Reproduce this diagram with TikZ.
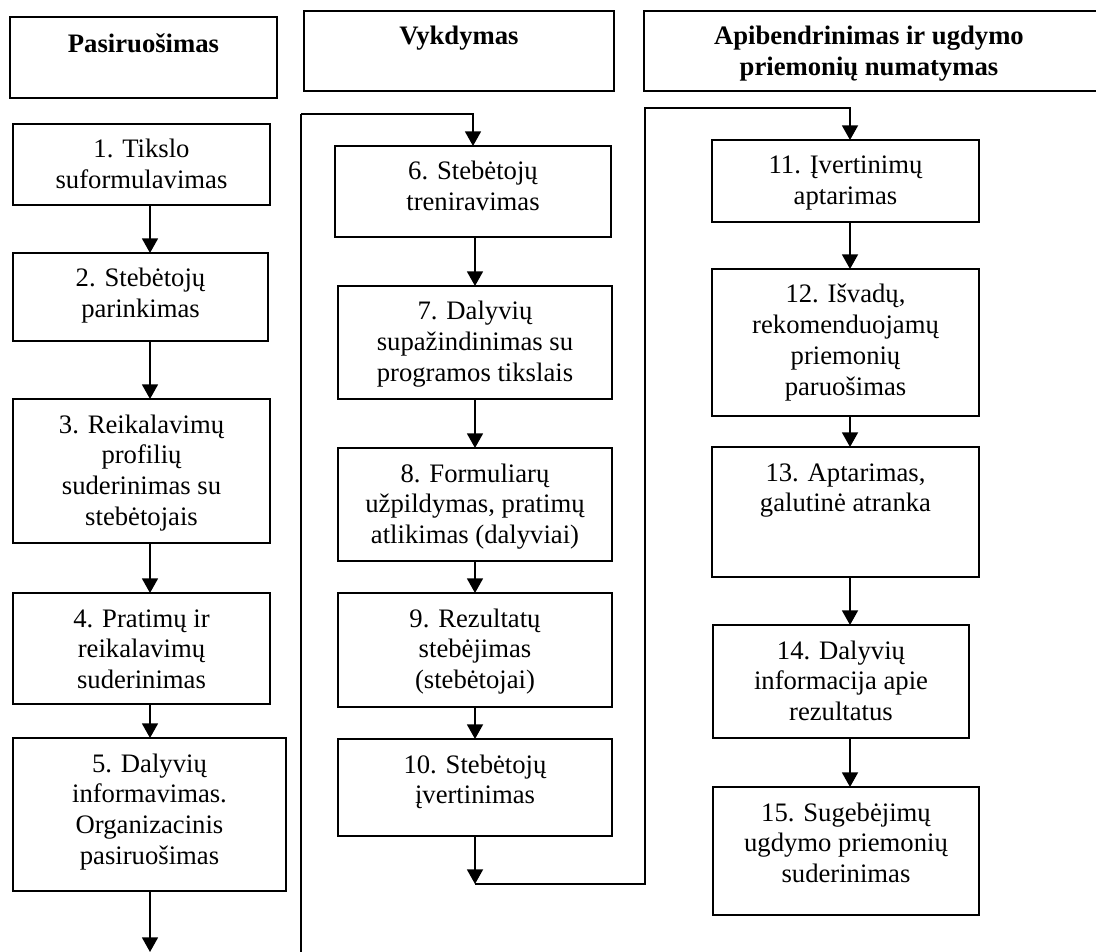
\documentclass[tikz,border=0pt]{standalone}
\usepackage{fontspec}
\setmainfont{Liberation Serif}
\usetikzlibrary{arrows.meta}
\newdimen\upx \upx=0.75pt
\newcommand\bxt[4][34]{\parbox[c][#3\upx][t]{#2\upx}{\centering\fontsize{20}{23.2}\selectfont\rule{0pt}{#1\upx}#4}}
\tikzset{
  box/.style={draw, line width=1.3pt, inner sep=0pt, outer sep=0pt, anchor=north west},
  arr/.style={-{Triangle[width=12pt,length=11pt]}, line width=1.3pt},
  ln/.style={line width=1.3pt}
}
\begin{document}
\begin{tikzpicture}[x=0.75pt,y=-0.75pt]
\useasboundingbox (0,0) rectangle (1096,952);
% headers
\node[box] (h1) at (10,17) {\bxt[36]{267}{81}{\textbf{Pasiruošimas}}};
\node[box] (h2) at (304,11) {\bxt{310}{80}{\textbf{Vykdymas}}};
\node[box] (h3) at (644,11) {\bxt{460}{80}{\hspace*{-10\upx}\textbf{Apibendrinimas ir ugdymo}\hspace*{0pt}\\\hspace*{-10\upx}\textbf{priemonių numatymas}}};
% column 1
\node[box] (b1) at (13,124) {\bxt{257}{81}{1. Tikslo\\suformulavimas}};
\node[box] (b2) at (13,253) {\bxt{255}{88}{2. Stebėtojų\\parinkimas}};
\node[box] (b3) at (13,399) {\bxt{257}{144}{3. Reikalavimų\\profilių\\suderinimas su\\stebėtojais}};
\node[box] (b4) at (13,593) {\bxt{257}{111}{4. Pratimų ir\\reikalavimų\\suderinimas}};
\node[box] (b5) at (13,738) {\bxt{273}{153}{5. Dalyvių\\informavimas.\\Organizacinis\\pasiruošimas}};
% column 2
\node[box] (b6) at (335,146) {\bxt{276}{91}{6. Stebėtojų\\treniravimas}};
\node[box] (b7) at (338,286) {\bxt{274}{113}{7. Dalyvių\\supažindinimas su\\programos tikslais}};
\node[box] (b8) at (338,448) {\bxt{274}{113}{8. Formuliarų\\užpildymas, pratimų\\atlikimas (dalyviai)}};
\node[box] (b9) at (338,593) {\bxt{274}{114}{9. Rezultatų\\stebėjimas\\(stebėtojai)}};
\node[box] (b10) at (338,739) {\bxt{274}{97}{10. Stebėtojų\\įvertinimas}};
% column 3
\node[box] (b11) at (712,140) {\bxt{267}{82}{11. Įvertinimų\\aptarimas}};
\node[box] (b12) at (712,269) {\bxt{267}{147}{12. Išvadų,\\rekomenduojamų\\priemonių\\paruošimas}};
\node[box] (b13) at (712,447) {\bxt{267}{130}{13. Aptarimas,\\galutinė atranka}};
\node[box] (b14) at (713,625) {\bxt{256}{113}{14. Dalyvių\\informacija apie\\rezultatus}};
\node[box] (b15) at (713,787) {\bxt{266}{128}{15. Sugebėjimų\\ugdymo priemonių\\suderinimas}};
% helper coordinates
\coordinate (ax1) at (150,0);
\coordinate (ax2) at (475,0);
\coordinate (ax3) at (850,0);
\coordinate (end1) at (150,952);
\coordinate (lb) at (301,952);
\coordinate (lt) at (301,114);
\coordinate (j) at (475,884);
\coordinate (rb) at (645,884);
\coordinate (rt) at (645,108);
% column 1 connectors
\draw[arr] (b1.south -| ax1) -- (b2.north -| ax1);
\draw[arr] (b2.south -| ax1) -- (b3.north -| ax1);
\draw[arr] (b3.south -| ax1) -- (b4.north -| ax1);
\draw[arr] (b4.south -| ax1) -- (b5.north -| ax1);
\draw[arr] (b5.south -| ax1) -- (end1);
% loop to column 2
\draw[ln] (lb) -- (lt);
\draw[arr] (lt) -| (b6.north);
\draw[arr] (b6.south -| ax2) -- (b7.north -| ax2);
\draw[arr] (b7.south -| ax2) -- (b8.north -| ax2);
\draw[arr] (b8.south -| ax2) -- (b9.north -| ax2);
\draw[arr] (b9.south -| ax2) -- (b10.north -| ax2);
\draw[arr] (b10.south -| ax2) -- (j);
% loop to column 3
\draw[arr] (j) -- (rb) -- (rt) -| (b11.north -| ax3);
\draw[arr] (b11.south -| ax3) -- (b12.north -| ax3);
\draw[arr] (b12.south -| ax3) -- (b13.north -| ax3);
\draw[arr] (b13.south -| ax3) -- (b14.north -| ax3);
\draw[arr] (b14.south -| ax3) -- (b15.north -| ax3);
\end{tikzpicture}
\end{document}
